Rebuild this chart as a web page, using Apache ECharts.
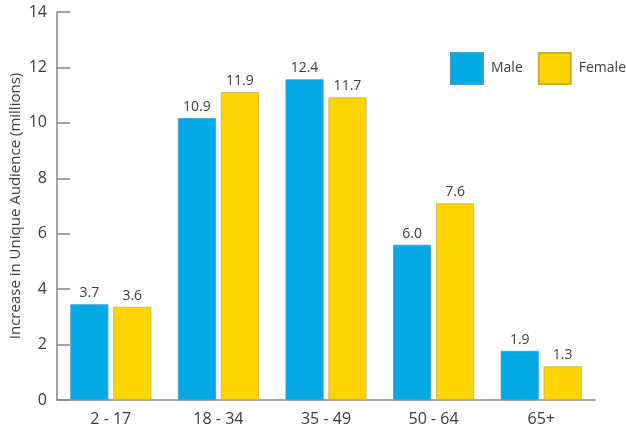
<!DOCTYPE html>
<html>
<head>
<meta charset="utf-8">
<script src="https://cdn.jsdelivr.net/npm/echarts@6/dist/echarts.min.js"></script>
<style>html,body{margin:0;padding:0;background:#fff}#c{width:626px;height:428px}</style>
</head>
<body>
<div id="c"></div>
<script>
const categories = ['2 - 17', '18 - 34', '35 - 49', '50 - 64', '65+'];
const male = [3.7, 10.9, 12.4, 6.0, 1.9];
const female = [3.6, 11.9, 11.7, 7.6, 1.3];
const tickLabels = [0, 2, 4, 6, 8, 10, 12, 14];
const seriesNames = ['Male', 'Female'];
const yAxisTitle = 'Increase in Unique Audience (millions)';

const font = '"Open Sans", "Noto Sans", sans-serif';
const chart = echarts.init(document.getElementById('c'), null, {renderer: 'canvas'});
const labelCfg = {show: true, position: 'top', distance: 4, color: '#3c3c3c', fontSize: 14, fontFamily: font,
  formatter: p => p.value.toFixed(1)};
chart.setOption({
  animation: false,
  grid: {left: 57, right: 31, top: 12, bottom: 28, outerBoundsMode: 'none', containLabel: false},
  legend: {
    data: seriesNames, orient: 'horizontal', left: 450, top: 52, width: 200, padding: 0,
    itemWidth: 32, itemHeight: 31, itemGap: 15,
    icon: 'rect',
    textStyle: {fontSize: 14, fontFamily: font, color: '#3c3c3c', padding: [0, 0, 0, 3]}
  },
  xAxis: {
    type: 'category', data: categories,
    axisLine: {lineStyle: {color: '#858585', width: 1.5}},
    axisTick: {inside: true, length: 8, lineStyle: {color: '#858585', width: 1.5}},
    axisLabel: {fontSize: 16, fontFamily: font, color: '#3c3c3c', margin: 11}
  },
  yAxis: [
    {
      type: 'value', min: 0, max: 15, show: false
    },
    {
      type: 'value', min: tickLabels[0], max: tickLabels[tickLabels.length - 1], interval: 2,
      position: 'left',
      name: yAxisTitle, nameLocation: 'middle', nameGap: 34, nameMoveOverlap: false,
      nameTextStyle: {fontSize: 15, fontFamily: font, color: '#3c3c3c'},
      axisLine: {show: true, lineStyle: {color: '#858585', width: 1.5}},
      axisTick: {show: true, inside: true, length: 13, lineStyle: {color: '#858585', width: 1.5}},
      axisLabel: {fontSize: 16, fontFamily: font, color: '#3c3c3c', margin: 10},
      splitLine: {show: false}
    }
  ],
  series: [
    {name: seriesNames[0], type: 'bar', yAxisIndex: 0, data: male, barWidth: 38, barGap: '13%',
      itemStyle: {color: '#04a9e6', borderColor: '#3d9fc8', borderWidth: 0.8}, label: labelCfg},
    {name: seriesNames[1], type: 'bar', yAxisIndex: 0, data: female, barWidth: 38, barGap: '13%',
      itemStyle: {color: '#ffd400', borderColor: '#c9ad3a', borderWidth: 0.8}, label: labelCfg}
  ]
});
</script>
</body>
</html>
